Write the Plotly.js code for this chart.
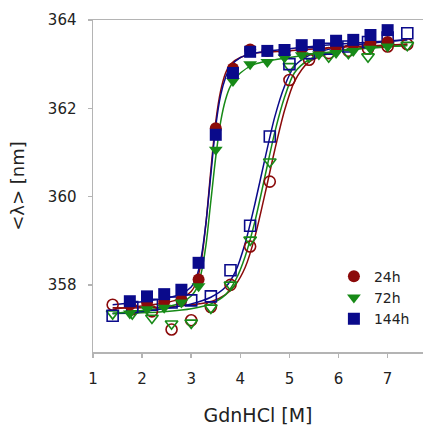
<!DOCTYPE html>
<html>
<head>
<meta charset="utf-8">
<script src="https://cdn.plot.ly/plotly-3.0.1.min.js"></script>
<style>html,body{margin:0;padding:0;background:#fff;}#chart{width:423px;height:426px;}</style>
</head>
<body>
<div id="chart"></div>
<script>
// ---- data ----
const seriesNames = ['24h', '72h', '144h'];

// filled markers (early transition)
const xFilled   = [1.75, 2.1, 2.45, 2.8, 3.15, 3.5, 3.85, 4.2, 4.55, 4.9, 5.25, 5.6, 5.95, 6.3, 6.65, 7.0];
const y24Filled  = [357.55, 357.6, 357.62, 357.66, 358.12, 361.55, 362.9, 363.33, 363.3, 363.3, 363.35, 363.35, 363.4, 363.45, 363.48, 363.5];
const y72Filled  = [357.35, 357.45, 357.48, 357.6, 357.97, 361.06, 362.62, 363.0, 363.05, 363.15, 363.2, 363.22, 363.25, 363.3, 363.35, 363.4];
const y144Filled = [357.63, 357.74, 357.79, 357.89, 358.5, 361.4, 362.8, 363.28, 363.3, 363.32, 363.43, 363.43, 363.53, 363.55, 363.66, 363.77];

// open markers (late transition)
const xOpen     = [1.4, 1.8, 2.2, 2.6, 3.0, 3.4, 3.8, 4.2, 4.6, 5.0, 5.4, 5.8, 6.2, 6.6, 7.0, 7.4];
const y24Open    = [357.55, 357.45, 357.4, 356.99, 357.2, 357.5, 358.0, 358.87, 360.34, 362.64, 363.1, 363.25, 363.3, 363.35, 363.4, 363.45];
const y72Open    = [357.35, 357.35, 357.25, 357.12, 357.14, 357.48, 358.0, 359.02, 360.79, 362.95, 363.17, 363.17, 363.25, 363.17, 363.43, 363.43];
const y144Open   = [357.3, 357.5, 357.55, 357.6, 357.65, 357.74, 358.33, 359.34, 361.36, 363.0, 363.25, 363.35, 363.4, 363.5, 363.6, 363.7];

// fitted curves
const fitXFilled   = [1.4, 2.0, 2.5, 2.8, 3.0, 3.1, 3.2, 3.3, 3.4, 3.5, 3.6, 3.7, 3.8, 4.0, 4.3, 5.0, 6.0, 7.4];
const fit24Filled  = [357.45, 357.52, 357.6, 357.7, 357.85, 358.05, 358.5, 359.4, 360.6, 361.7, 362.4, 362.8, 363.0, 363.15, 363.25, 363.3, 363.38, 363.45];
const fit72Filled  = [357.35, 357.42, 357.5, 357.6, 357.75, 357.9, 358.25, 358.9, 359.9, 360.9, 361.7, 362.2, 362.5, 362.8, 363.0, 363.15, 363.3, 363.42];
const fit144Filled = [357.55, 357.62, 357.7, 357.8, 357.95, 358.15, 358.6, 359.4, 360.5, 361.6, 362.3, 362.7, 362.95, 363.15, 363.25, 363.35, 363.45, 363.55];

const fitXOpen     = [1.4, 2.0, 2.5, 3.0, 3.4, 3.7, 3.9, 4.1, 4.3, 4.5, 4.7, 4.9, 5.1, 5.4, 6.0, 7.4];
const fit24Open    = [357.48, 357.48, 357.5, 357.55, 357.62, 357.78, 358.0, 358.4, 359.1, 360.05, 361.05, 361.95, 362.6, 363.05, 363.3, 363.45];
const fit72Open    = [357.35, 357.37, 357.4, 357.46, 357.57, 357.78, 358.1, 358.65, 359.45, 360.45, 361.45, 362.25, 362.8, 363.1, 363.3, 363.42];
const fit144Open   = [357.35, 357.4, 357.47, 357.57, 357.72, 357.95, 358.3, 358.95, 359.85, 360.85, 361.8, 362.5, 362.95, 363.2, 363.38, 363.55];

const xTicks = [1, 2, 3, 4, 5, 6, 7];
const yTicks = [358, 360, 362, 364];

// ---- styles ----
const colors  = ['#8b0a0a', '#178a17', '#0a0a8b'];
const symbols = ['circle', 'triangle-down', 'square'];
const FONT = 'DejaVu Sans, Arial, sans-serif';

const fitsFilled = [fit24Filled, fit72Filled, fit144Filled];
const fitsOpen = [fit24Open, fit72Open, fit144Open];
const ptsFilled = [y24Filled, y72Filled, y144Filled];
const ptsOpen = [y24Open, y72Open, y144Open];

const traces = [];
for (let i = 0; i < 3; i++) {
  traces.push({x: fitXOpen, y: fitsOpen[i], mode: 'lines', showlegend: false, hoverinfo: 'skip',
    line: {color: colors[i], width: 1.5, shape: 'spline', smoothing: 0.8}});
}
for (let i = 0; i < 3; i++) {
  traces.push({x: fitXFilled, y: fitsFilled[i], mode: 'lines', showlegend: false, hoverinfo: 'skip',
    line: {color: colors[i], width: 1.5, shape: 'spline', smoothing: 0.8}});
}
for (let i = 0; i < 3; i++) {
  traces.push({x: xOpen, y: ptsOpen[i], mode: 'markers', showlegend: false,
    marker: {symbol: symbols[i] + '-open', size: 11, color: colors[i], line: {width: 1.6, color: colors[i]}}});
}
for (let i = 0; i < 3; i++) {
  traces.push({x: xFilled, y: ptsFilled[i], mode: 'markers', name: seriesNames[i],
    marker: {symbol: symbols[i], size: 12, color: colors[i], line: {width: 0}}});
}

const layout = {
  width: 423, height: 426,
  margin: {l: 93, r: 0, t: 20, b: 74},
  paper_bgcolor: '#fff', plot_bgcolor: '#fff',
  font: {family: FONT, color: '#222', size: 15},
  showlegend: true,
  legend: {x: 0.73, y: 0.275, xanchor: 'left', yanchor: 'top', bgcolor: 'rgba(0,0,0,0)',
    font: {family: FONT, size: 14, color: '#222'}, itemsizing: 'constant', tracegroupgap: 0},
  xaxis: {
    range: [1, 7.72], tickvals: xTicks, ticktext: xTicks.map(String),
    showgrid: false, zeroline: false, showline: true, linecolor: '#b4b4b4', linewidth: 1.5, mirror: true,
    ticks: 'outside', ticklen: 4, tickcolor: '#b4b4b4', tickwidth: 1.5,
    tickfont: {family: FONT, size: 15, color: '#222'}, ticklabelstandoff: 8,
    title: {text: 'GdnHCl [M]', font: {family: FONT, size: 19, color: '#222'}, standoff: 22}
  },
  yaxis: {
    range: [356.48, 364], tickvals: yTicks, ticktext: yTicks.map(String),
    showgrid: false, zeroline: false, showline: true, linecolor: '#b4b4b4', linewidth: 1.5,
    ticks: 'outside', ticklen: 4, tickcolor: '#b4b4b4', tickwidth: 1.5,
    tickfont: {family: FONT, size: 15, color: '#222'}, ticklabelstandoff: 8,
    title: {text: '<λ> [nm]', font: {family: FONT, size: 18, color: '#222'}, standoff: 18}
  }
};

Plotly.newPlot('chart', traces, layout, {staticPlot: true, displayModeBar: false});
</script>
</body>
</html>
